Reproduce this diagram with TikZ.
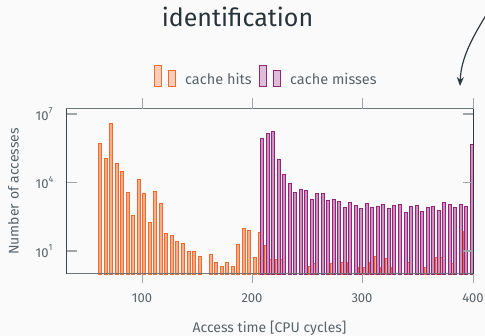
\documentclass[tikz,border=0pt]{standalone}
\usepackage{fontspec}
\setmainfont{Fira Sans}
\usetikzlibrary{arrows.meta}
\definecolor{bg}{RGB}{250,250,250}
\definecolor{titlec}{RGB}{40,52,58}
\definecolor{textc}{RGB}{88,100,106}
\definecolor{hitline}{RGB}{240,105,45}
\definecolor{hitfill}{RGB}{248,172,138}
\definecolor{misline}{RGB}{150,35,120}
\definecolor{misfill}{RGB}{202,145,190}
\definecolor{framec}{RGB}{110,118,122}
\definecolor{darkframe}{RGB}{45,58,64}
\definecolor{tickc}{RGB}{160,165,168}
\newcommand{\tenpow}[1]{10\raisebox{0.5em}{\fontsize{9}{9}\selectfont #1}}
\tikzset{
  hitbar/.style={fill=hitfill, draw=hitline, line width=0.8pt},
  misbar/.style={fill=misfill, draw=misline, line width=0.8pt},
  hitleg/.style={fill=hitfill!60, draw=hitline, line width=0.8pt},
  misleg/.style={fill=misfill!60, draw=misline, line width=0.8pt},
  framel/.style={draw=framec, line width=1pt},
  tickl/.style={draw=tickc, line width=1.1pt},
  ticklab/.style={text=textc, font=\fontsize{13}{15}\selectfont, inner sep=0pt},
  axlab/.style={text=textc, font=\fontsize{14}{16}\selectfont, inner sep=0pt},
  leglab/.style={text=textc, font=\fontsize{14.5}{17}\selectfont, inner sep=0pt, anchor=base west},
}
\begin{document}
\begin{tikzpicture}[x=1pt,y=-1pt]
\fill[bg] (0,0) rectangle (485,336);
\useasboundingbox (0,0) rectangle (485,336);
% title
\node[text=titlec, font=\fontsize{25}{30}\selectfont, inner sep=0pt, anchor=base] (title) at (237.5,26.5) {identification};
% arrow
\coordinate (arrS) at (488,12);
\coordinate (arrE) at (460,86);
\draw[darkframe, line width=1.2pt, -{Stealth[length=9pt,width=7pt]}] (arrS) .. controls (472,38) and (461,58) .. (arrE);
% legend
\draw[hitleg] (154,65) rectangle (161.7,86.5);
\draw[hitleg] (168,70) rectangle (175.7,86.5);
\node[leglab] (lh) at (185,84.5) {cache hits};
\draw[misleg] (259,65) rectangle (266.7,86.5);
\draw[misleg] (273,70) rectangle (280.7,86.5);
\node[leglab] (lm) at (290,84.5) {cache misses};
% bars: hits
\foreach \k/\t in {0/143.3,1/158,2/123.7,3/163,4/171.5,5/192,6/215,7/179.2,8/193.2,9/222.2,10/191.8,11/203,12/233.5,13/235.3,14/241.3,15/243.2,16/251.7,17/251.7,18/256,20/254.2,21/262.5,22/266.7,23/262.5,24/266.7,25/244.2,26/228.7,27/230.3,28/257.3,29/232,30/245.7,31/259.7,32/259.7,33/259.7,38/266.7,39/263,42/263,44/262.7,45/262.7,47/267,48/267,49/262.7,50/256,51/267,52/258,53/267,56/262.7,59/267,61/257.7,62/257.7,64/263,66/231}
  {\draw[hitbar] ({98.6+5.52*\k},274) rectangle ({101.6+5.52*\k},\t);}
% bars: misses
\foreach \k/\t in {0/138.3,1/133.7,2/131.2,3/159.8,4/174.5,5/183.5,6/192.5,7/189.7,8/190.5,9/199.2,10/193.5,11/193.7,12/200.3,13/199,14/201.7,15/207.3,16/202.8,17/205.2,18/208.2,19/203.7,20/207.7,21/206.8,22/204.2,23/208.7,24/205.2,25/204.7,26/212.3,27/206.7,28/205.8,29/211.8,30/207.3,31/206.8,32/210.7,33/202.8,34/204.5,35/207.3,36/204.5,37/206.7,38/144}
  {\draw[misbar] ({260.4+5.52*\k},274) rectangle ({263.4+5.52*\k},\t);}
% frame
\draw[framel] (66,109) -- (473,109);
\draw[framel] (66,274) -- (473,274);
\draw[darkframe!80!framec, line width=1pt] (66,109) -- (66,274);
\draw[darkframe, line width=1pt] (473,109) -- (473,274);
% x ticks
\foreach \x/\l in {142/100,252/200,362/300,473/400}{
  \draw[tickl, line width=0.9pt] (\x,98.5) -- (\x,109);
  \draw[tickl, line width=0.9pt] (\x,274) -- (\x,283.5);
  \node[ticklab, anchor=center] (xl\l) at (\x,298.5) {\l};
}
% y ticks
\foreach \y/\l in {114/7,182.7/4,251/1}{
  \draw[tickl] (66.5,\y) -- (76.5,\y);
  \draw[tickl] (463,\y) -- (472.5,\y);
  \node[ticklab, anchor=west] (yl\l) at (35.5,\y) {\tenpow{\l}};
}
% axis labels
\node[axlab, anchor=center] (xlab) at (269.5,328) {Access time [CPU cycles]};
\node[axlab, anchor=center, rotate=90] (ylab) at (13.5,191.5) {Number of accesses};
\end{tikzpicture}
\end{document}
